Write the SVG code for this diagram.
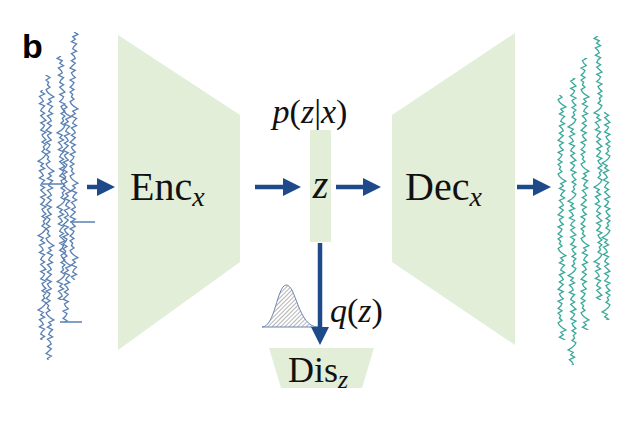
<svg xmlns="http://www.w3.org/2000/svg" width="636" height="440" viewBox="0 0 636 440">
<style>
.blk{fill:#e2eed8}
.t{font-family:"Liberation Serif",serif;fill:#111}
.i{font-style:italic}
.arr{stroke:#1f4a8a;stroke-width:4.5;fill:none}
.sl use{fill:none;stroke:#5a80b2;stroke-width:1.3}
.sr use{fill:none;stroke:#3aa99a;stroke-width:1.3}
use{vector-effect:non-scaling-stroke}
</style>
<defs>
<marker id="ah" markerWidth="4" markerHeight="4" refX="2" refY="2" orient="auto" markerUnits="strokeWidth"><path d="M0,0 L4,2 L0,4 Z" fill="#1f4a8a"/></marker>
<pattern id="hatch" width="3" height="3" patternUnits="userSpaceOnUse" patternTransform="rotate(45)"><line x1="0" y1="0" x2="0" y2="3" stroke="#444" stroke-width="0.8"/></pattern>
<path id="w" vector-effect="non-scaling-stroke" d="M0,0 l3,4 -4,4 2,4 -3,4 4,4 -2,4 -1,4 3,4 -4,4 2,4 1,4 -3,4 3,4 -2,4 -2,4 4,4 -3,4 1,4 2,4 -4,4 3,4 -1,4 -2,4 3,4 -3,4 2,4 -1,4 2,4 -3,4 1,4 2,4"/>
<path id="s" vector-effect="non-scaling-stroke" d="M0,0 v124 v124 v124"/>
<g id="tr"><use href="#w" y="0"/><use href="#w" y="124" transform="translate(0,0)"/><use href="#w" y="248"/><use href="#w" y="372"/><use href="#w" y="496"/></g>
<g id="tf" transform="scale(-1,1)"><use href="#w" y="0"/><use href="#w" y="124"/><use href="#w" y="248"/><use href="#w" y="372"/><use href="#w" y="496"/></g>
<clipPath id="c1"><rect x="0" y="32" width="636" height="248"/></clipPath>
<clipPath id="c2"><rect x="0" y="56" width="636" height="244"/></clipPath>
<clipPath id="c3"><rect x="0" y="75" width="636" height="285"/></clipPath>
<clipPath id="c4"><rect x="0" y="90" width="636" height="250"/></clipPath>
<clipPath id="c5"><rect x="0" y="105" width="636" height="217"/></clipPath>
<clipPath id="d1"><rect x="0" y="36" width="636" height="264"/></clipPath>
<clipPath id="d2"><rect x="0" y="58" width="636" height="272"/></clipPath>
<clipPath id="d3"><rect x="0" y="78" width="636" height="287"/></clipPath>
<clipPath id="d4"><rect x="0" y="95" width="636" height="245"/></clipPath>
<clipPath id="d5"><rect x="0" y="112" width="636" height="208"/></clipPath>
</defs>
<text x="22" y="58" style="font-family:'Liberation Sans',sans-serif;font-weight:bold;font-size:34px">b</text>
<g id="signal-in" class="sl">
<g clip-path="url(#c1)"><g transform="translate(74,32) scale(1.3,0.6)"><use href="#tr"/></g></g>
<g clip-path="url(#c2)"><g transform="translate(61,56) scale(1.3,0.6)"><use href="#tf"/></g></g>
<g clip-path="url(#c3)"><g transform="translate(50,20) scale(1.3,0.6)"><use href="#tr"/></g></g>
<g clip-path="url(#c4)"><g transform="translate(42,10) scale(1.3,0.6)"><use href="#tf"/></g></g>
<g clip-path="url(#c5)"><g transform="translate(67,40) scale(1.3,0.6)"><use href="#tr"/></g></g>
<path d="M70,222 H95 M60,322 H82 M42,184 H62" stroke="#5a80b2" stroke-width="1.3"/>
</g>
<g id="signal-out" class="sr">
<g clip-path="url(#d1)"><g transform="translate(598,36) scale(1.3,0.6)"><use href="#tf"/></g></g>
<g clip-path="url(#d2)"><g transform="translate(585,20) scale(1.3,0.6)"><use href="#tr"/></g></g>
<g clip-path="url(#d3)"><g transform="translate(572,50) scale(1.3,0.6)"><use href="#tf"/></g></g>
<g clip-path="url(#d4)"><g transform="translate(562,30) scale(1.3,0.6)"><use href="#tr"/></g></g>
<g clip-path="url(#d5)"><g transform="translate(606,12) scale(1.3,0.6)"><use href="#tf"/></g></g>
</g>
<g id="enc"><polygon class="blk" points="118,35 240,115 240,262 118,350"/>
<text x="130" y="200" class="t" font-size="40">Enc<tspan class="i" font-size="28" dy="6">x</tspan></text></g>
<g id="z"><rect class="blk" x="310" y="130" width="21" height="112"/>
<text x="320.5" y="198" class="t i" font-size="40" text-anchor="middle">z</text>
<text x="310" y="123" class="t" font-size="34" text-anchor="middle"><tspan class="i">p</tspan>(<tspan class="i">z</tspan>|<tspan class="i">x</tspan>)</text></g>
<g id="dec"><polygon class="blk" points="392,115 515,33 515,345 392,262"/>
<text x="405" y="200" class="t" font-size="40">Dec<tspan class="i" font-size="28" dy="6">x</tspan></text></g>
<g id="dis"><polygon class="blk" points="269,348 374,348 362,388 281,388"/>
<text x="288" y="382" class="t" font-size="36">Dis<tspan class="i" font-size="26" dy="6">z</tspan></text></g>
<g id="prior"><path d="M262,327 C275,327 277,286 286,285 C296,284 298,327 318,327 Z" fill="url(#hatch)" stroke="#6a86b3" stroke-width="1"/>
<text x="330" y="322" class="t" font-size="34"><tspan class="i">q</tspan>(<tspan class="i">z</tspan>)</text></g>
<g id="connectors">
<line class="arr" x1="87" y1="187" x2="106" y2="187" marker-end="url(#ah)"/>
<line class="arr" x1="255" y1="187" x2="292" y2="187" marker-end="url(#ah)"/>
<line class="arr" x1="336" y1="187" x2="372" y2="187" marker-end="url(#ah)"/>
<line class="arr" x1="517" y1="187" x2="542" y2="187" marker-end="url(#ah)"/>
<line class="arr" x1="320" y1="243" x2="320" y2="336" marker-end="url(#ah)"/>
</g>
</svg>
